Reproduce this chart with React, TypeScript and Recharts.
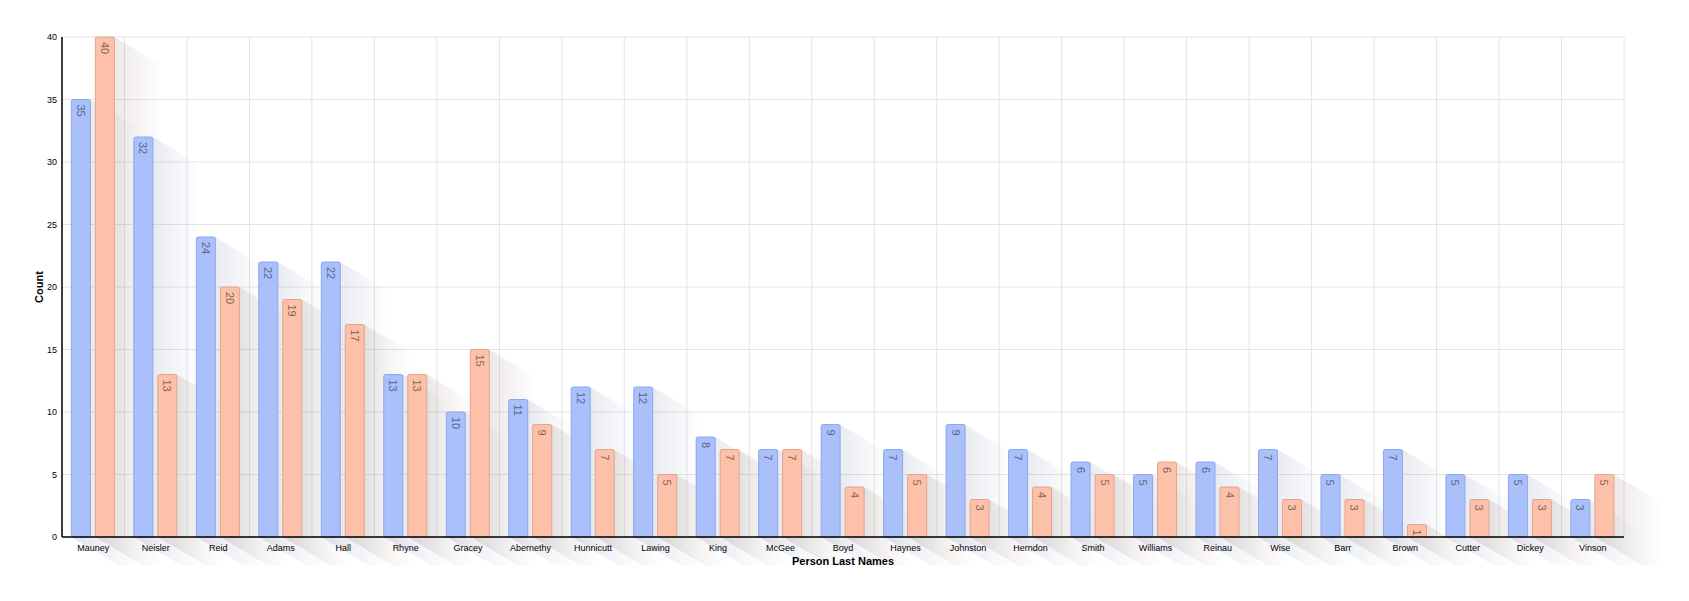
import { BarChart, Bar, XAxis, YAxis, CartesianGrid, LabelList, Rectangle } from 'recharts'

const names = [
  'Mauney', 'Neisler', 'Reid', 'Adams', 'Hall', 'Rhyne', 'Gracey', 'Abernethy', 'Hunnicutt', 'Lawing',
  'King', 'McGee', 'Boyd', 'Haynes', 'Johnston', 'Herndon', 'Smith', 'Williams', 'Reinau', 'Wise',
  'Barr', 'Brown', 'Cutter', 'Dickey', 'Vinson',
]
const blueCounts = [35, 32, 24, 22, 22, 13, 10, 11, 12, 12, 8, 7, 9, 7, 9, 7, 6, 5, 6, 7, 5, 7, 5, 5, 3]
const orangeCounts = [40, 13, 20, 19, 17, 13, 15, 9, 7, 5, 7, 7, 4, 5, 3, 4, 5, 6, 4, 3, 3, 1, 3, 3, 5]
const yTicks = [0, 5, 10, 15, 20, 25, 30, 35, 40]

const rows = names.map((name, i) => ({ name, a: blueCounts[i], b: orangeCounts[i] }))

const BLUE = '#a9c0fb'
const BLUE_LINE = '#8ea6ec'
const ORANGE = '#fdc0a8'
const ORANGE_LINE = '#e4a48c'
const GAP = 5
const SH_LEN = 48
const SH_SLOPE = 0.6

function shadowPts(x: number, y: number, w: number, h: number) {
  const dx = SH_LEN
  const dy = SH_LEN * SH_SLOPE
  return [
    [x, y],
    [x + w, y],
    [x + w + dx, y + dy],
    [x + w + dx, y + h + dy],
    [x + dx, y + h + dy],
    [x, y + h],
  ]
    .map((p) => p.join(','))
    .join(' ')
}

// blue bars draw both shadows of their group first, so every shadow stays behind the bars
// eslint-disable-next-line @typescript-eslint/no-explicit-any
function BlueShape(props: any) {
  const { x, y, width, height, payload } = props
  const oh = payload.a > 0 ? (height * payload.b) / payload.a : 0
  const ox = x + width + GAP
  const oy = y + height - oh
  return (
    <g>
      <polygon points={shadowPts(x, y, width, height)} fill="url(#shB)" />
      <polygon points={shadowPts(ox, oy, width, oh)} fill="url(#shO)" />
      <Rectangle x={x} y={y} width={width} height={height} radius={[2, 2, 0, 0]} fill={BLUE} stroke={BLUE_LINE} />
    </g>
  )
}

// eslint-disable-next-line @typescript-eslint/no-explicit-any
function BarValue(props: any) {
  const { x, y, width, value } = props
  const cx = x + width / 2
  const ty = y + 5
  return (
    <text
      x={cx}
      y={ty}
      transform={`rotate(90 ${cx} ${ty})`}
      textAnchor="start"
      dominantBaseline="central"
      fontSize={11}
      fill="#222"
      fillOpacity={0.6}
    >
      {value}
    </text>
  )
}

// eslint-disable-next-line @typescript-eslint/no-explicit-any
function CountTitle(props: any) {
  const vb = props.viewBox
  const cx = vb.x + 39
  const cy = vb.y + vb.height / 2
  return (
    <text
      x={cx}
      y={cy}
      transform={`rotate(-90 ${cx} ${cy})`}
      textAnchor="middle"
      dominantBaseline="central"
      fontSize={11}
      fontWeight="bold"
      fill="#000"
    >
      Count
    </text>
  )
}

const tickStyle = { fontSize: 9, fill: '#000' }

export default function App() {
  return (
    <div style={{ position: 'absolute', left: 0, top: 0, fontFamily: '"Liberation Sans", Arial, sans-serif' }}>
      <BarChart
        width={1689}
        height={601}
        data={rows}
        margin={{ top: 37, right: 65, left: 0, bottom: 0 }}
        barCategoryGap="15%"
        barGap={GAP}
      >
        <defs>
          <linearGradient id="shB" x1="0" y1="0" x2="1" y2="0">
            <stop offset="0%" stopColor="#6f7fa8" stopOpacity={0.2} />
            <stop offset="30%" stopColor="#6f7fa8" stopOpacity={0.15} />
            <stop offset="100%" stopColor="#6f7fa8" stopOpacity={0} />
          </linearGradient>
          <linearGradient id="shO" x1="0" y1="0" x2="1" y2="0">
            <stop offset="0%" stopColor="#8c6e64" stopOpacity={0.2} />
            <stop offset="30%" stopColor="#8c6e64" stopOpacity={0.15} />
            <stop offset="100%" stopColor="#8c6e64" stopOpacity={0} />
          </linearGradient>
        </defs>
        <CartesianGrid
          stroke="#e4e4e4"
          verticalCoordinatesGenerator={({ offset }: any) =>
            names.map((_, i) => offset.left + (i * offset.width) / names.length).concat(offset.left + offset.width)
          }
        />
        <XAxis
          dataKey="name"
          height={64}
          tick={tickStyle}
          tickLine={false}
          tickSize={0}
          tickMargin={8}
          interval={0}
          axisLine={{ stroke: '#000', strokeWidth: 1.5 }}
          label={{ value: 'Person Last Names', position: 'insideBottom', offset: 36, fontSize: 11, fontWeight: 'bold', fill: '#000' }}
        />
        <YAxis
          width={62}
          domain={[0, 40]}
          ticks={yTicks}
          tick={tickStyle}
          tickLine={false}
          tickSize={0}
          tickMargin={5}
          axisLine={{ stroke: '#000', strokeWidth: 1.5 }}
          label={{ content: CountTitle }}
        />
        <Bar dataKey="a" shape={BlueShape} isAnimationActive={false}>
          <LabelList dataKey="a" content={BarValue} />
        </Bar>
        <Bar dataKey="b" fill={ORANGE} stroke={ORANGE_LINE} radius={[2, 2, 0, 0]} isAnimationActive={false}>
          <LabelList dataKey="b" content={BarValue} />
        </Bar>
      </BarChart>
    </div>
  )
}
